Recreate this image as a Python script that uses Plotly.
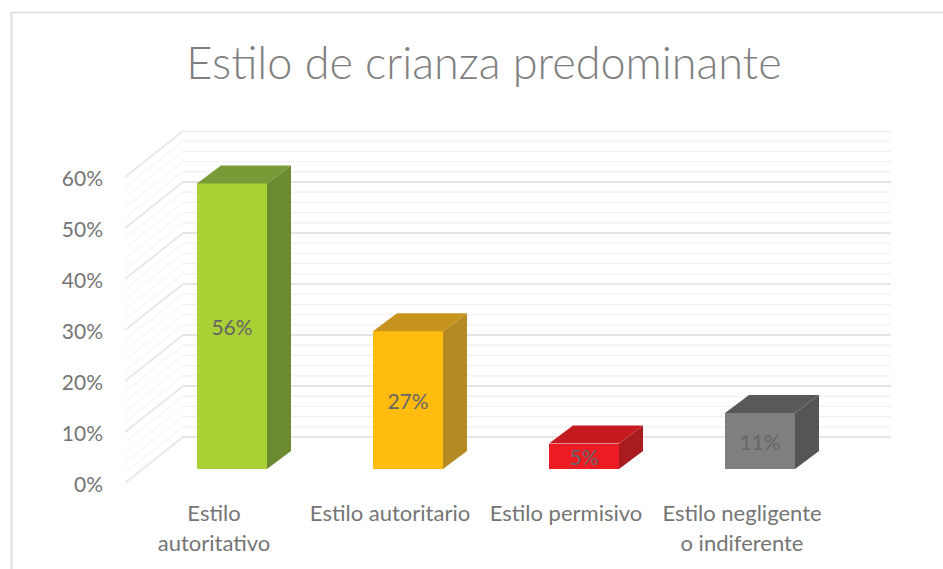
import plotly.graph_objects as go

categories = ["Estilo<br>autoritativo", "Estilo autoritario", "Estilo permisivo", "Estilo negligente<br>o indiferente"]
values = [56, 27, 5, 11]
labels = ["56%", "27%", "5%", "11%"]
front_colors = ["#A9D034", "#FFBC0F", "#ED1C24", "#7F7F7F"]
side_colors = ["#6C8A30", "#B58A22", "#A81C20", "#555555"]
top_colors = ["#789B38", "#C6941C", "#C41A20", "#595959"]
y_ticks = [0, 10, 20, 30, 40, 50, 60]

W, H = 943, 569
L, R, T, B = 125, 893, 131, 483
X_PER_CAT = 176.0
Y_PER_PCT = 5.1
x_min = (L - 214) / X_PER_CAT
x_max = (R - 214) / X_PER_CAT
y_max = (B - T) / Y_PER_PCT

bar_shift = 18 / X_PER_CAT
bar_width = 70 / X_PER_CAT
bar_base = 14 / Y_PER_PCT
depth_x = 24 / X_PER_CAT
depth_y = 18 / Y_PER_PCT
wall_x = 58 / X_PER_CAT
wall_y = 46 / Y_PER_PCT
wall_right = x_min + (891 - L) / X_PER_CAT

fig = go.Figure()
xs = [i + bar_shift for i in range(len(values))]

fig.add_trace(go.Bar(
    x=xs, y=values, base=[bar_base] * len(values), width=bar_width,
    marker=dict(color=front_colors, line=dict(width=0)),
    text=labels, textposition="inside", insidetextanchor="middle",
    textangle=0, constraintext="none",
    textfont=dict(family="Lato", size=21, color="#666666"),
    hoverinfo="skip", showlegend=False,
))

for xc, v, sc, tc in zip(xs, values, side_colors, top_colors):
    x0, x1 = xc - bar_width / 2, xc + bar_width / 2
    y0, y1 = bar_base, bar_base + v
    fig.add_trace(go.Scatter(
        x=[x1, x1 + depth_x, x1 + depth_x, x1, x1],
        y=[y0, y0 + depth_y, y1 + depth_y, y1, y0],
        mode="lines", fill="toself", fillcolor=sc, line=dict(width=0),
        hoverinfo="skip", showlegend=False))
    fig.add_trace(go.Scatter(
        x=[x0, x1, x1 + depth_x, x0 + depth_x, x0],
        y=[y1, y1, y1 + depth_y, y1 + depth_y, y1],
        mode="lines", fill="toself", fillcolor=tc, line=dict(width=0),
        hoverinfo="skip", showlegend=False))

shapes = []
for g in range(0, 62, 2):
    major = g % 10 == 0
    back_col = "#dcdcdc" if major else "#f1f1f1"
    side_col = "#e6e6e6" if major else "#f5f5f5"
    w = 1.6 if major else 1.2
    ax = x_min + wall_x
    ay = g + wall_y
    shapes.append(dict(type="line", layer="below", xref="x", yref="y",
                       x0=x_min, y0=g, x1=ax, y1=ay, line=dict(color=side_col, width=w)))
    shapes.append(dict(type="line", layer="below", xref="x", yref="y",
                       x0=ax, y0=ay, x1=wall_right, y1=ay, line=dict(color=back_col, width=w)))

plot_w, plot_h = R - L, B - T
px = lambda p: (p - L) / plot_w
py = lambda p: (B - p) / plot_h
shapes.append(dict(type="line", xref="paper", yref="paper", x0=px(11.5), x1=px(11.5), y0=py(12), y1=py(569),
                   line=dict(color="#dedede", width=2)))
shapes.append(dict(type="line", xref="paper", yref="paper", x0=px(11), x1=px(943), y0=py(12.5), y1=py(12.5),
                   line=dict(color="#dedede", width=1.5)))

fig.update_layout(
    width=W, height=H, autosize=False,
    margin=dict(l=L, r=W - R, t=T, b=H - B, autoexpand=False),
    paper_bgcolor="white", plot_bgcolor="white",
    showlegend=False, bargap=0, shapes=shapes,
    title=dict(text="Estilo de crianza predominante", xref="container", yref="container",
               x=484 / W, y=1 - 63 / H, xanchor="center", yanchor="middle",
               font=dict(family="Lato", size=45, color="#7f7f7f", weight=300)),
    xaxis=dict(range=[x_min, x_max], tickvals=list(range(len(categories))),
               ticktext=['<span style="font-size:22px">' + c.replace("<br>", '</span><br><span style="font-size:22px">') + "</span>"
                         for c in categories],
               tickangle=0, showgrid=False, zeroline=False, showline=False, ticks="",
               ticklabelstandoff=14,
               tickfont=dict(family="Lato", size=23, color="#757575")),
    yaxis=dict(range=[0, y_max], tickvals=y_ticks, ticktext=[f"{t}%" for t in y_ticks],
               showgrid=False, zeroline=False, showline=False, ticks="",
               ticklabelstandoff=21, ticklabelshift=2,
               tickfont=dict(family="Lato", size=21, color="#757575")),
)
fig.write_html("out.html", config={"displayModeBar": False},
               post_script="document.body.style.margin='0';document.body.style.overflow='hidden';")
